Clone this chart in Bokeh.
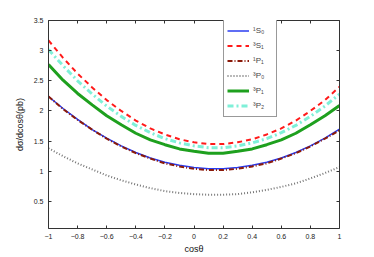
from bokeh.plotting import figure
from bokeh.models import (Legend, LegendItem, LinearAxis, Range1d, FixedTicker,
                          CustomLabelingPolicy)
from bokeh.embed import file_html
from bokeh.resources import INLINE

cos_theta = [-1.0, -0.9, -0.8, -0.7, -0.6, -0.5, -0.4, -0.3, -0.2, -0.1, 0.0,
             0.1, 0.2, 0.3, 0.4, 0.5, 0.6, 0.7, 0.8, 0.9, 1.0]
s0_1 = [2.24, 2.04, 1.86, 1.69, 1.55, 1.42, 1.31, 1.22, 1.15, 1.10, 1.06,
        1.04, 1.04, 1.06, 1.10, 1.15, 1.22, 1.31, 1.42, 1.55, 1.70]
s1_3 = [3.17, 2.88, 2.62, 2.39, 2.18, 2.00, 1.84, 1.71, 1.61, 1.53, 1.48,
        1.45, 1.45, 1.48, 1.53, 1.61, 1.71, 1.84, 2.00, 2.18, 2.40]
p1_1 = [2.24, 2.03, 1.85, 1.69, 1.54, 1.41, 1.30, 1.21, 1.13, 1.08, 1.04,
        1.02, 1.02, 1.04, 1.08, 1.13, 1.21, 1.30, 1.41, 1.54, 1.68]
p0_3 = [1.38, 1.25, 1.13, 1.03, 0.93, 0.85, 0.78, 0.72, 0.67, 0.64, 0.62,
        0.61, 0.61, 0.62, 0.65, 0.69, 0.74, 0.80, 0.88, 0.97, 1.07]
p1_3 = [2.77, 2.51, 2.29, 2.10, 1.92, 1.77, 1.63, 1.52, 1.44, 1.37, 1.33,
        1.30, 1.30, 1.33, 1.37, 1.44, 1.52, 1.63, 1.77, 1.92, 2.09]
p2_3 = [3.02, 2.75, 2.50, 2.28, 2.08, 1.91, 1.76, 1.64, 1.54, 1.47, 1.42,
        1.39, 1.39, 1.42, 1.47, 1.54, 1.64, 1.76, 1.91, 2.08, 2.28]

labels = ["¹S₀", "³S₁", "¹P₁", "³P₀", "³P₁", "³P₂"]
x_ticks = [-1, -0.8, -0.6, -0.4, -0.2, 0, 0.2, 0.4, 0.6, 0.8, 1]
x_tick_labels = ["−1", "−0.8", "−0.6", "−0.4", "−0.2", "0", "0.2", "0.4", "0.6", "0.8", "1"]
y_ticks = [0.5, 1, 1.5, 2, 2.5, 3, 3.5]
y_tick_labels = ["0.5", "1", "1.5", "2", "2.5", "3", "3.5"]

FONT = "Liberation Sans"
AXC = "#333333"

p = figure(frame_width=291, frame_height=208, output_backend="svg", toolbar_location=None,
           x_range=Range1d(-1, 1), y_range=Range1d(0.05, 3.5),
           min_border_left=48, min_border_top=20, min_border_right=20, min_border_bottom=10)
p.background_fill_color = "white"
p.border_fill_color = "white"
p.outline_line_color = None
p.xgrid.visible = False
p.ygrid.visible = False

p.xaxis.ticker = FixedTicker(ticks=x_ticks)
p.xaxis.major_label_overrides = {t: l for t, l in zip(x_ticks, x_tick_labels)}
p.yaxis.ticker = FixedTicker(ticks=y_ticks)
p.yaxis.major_label_overrides = {t: l for t, l in zip(y_ticks, y_tick_labels)}
p.xaxis.axis_label = "cosθ"
p.yaxis.axis_label = "dσ/dcosθ(pb)"

for ax in [p.xaxis[0], p.yaxis[0]]:
    ax.major_tick_in = 3
    ax.major_tick_out = 0
    ax.minor_tick_line_color = None
    ax.axis_line_color = AXC
    ax.major_tick_line_color = AXC
    ax.major_label_text_font = FONT
    ax.major_label_text_font_size = "7px"
    ax.major_label_text_color = "#222222"
    ax.axis_label_text_font = FONT
    ax.axis_label_text_font_size = "9px"
    ax.axis_label_text_font_style = "normal"
    ax.axis_label_text_color = "#111111"
p.xaxis.major_label_standoff = 5
p.xaxis.axis_label_standoff = 2
p.yaxis.major_label_standoff = 5
p.yaxis.axis_label_standoff = 6

hide_js = "const all = [...indices]; for (const i of all) indices.unset(i); return indices"
top = LinearAxis(ticker=FixedTicker(ticks=x_ticks),
                 major_label_policy=CustomLabelingPolicy(code=hide_js),
                 major_tick_in=3, major_tick_out=0, minor_tick_line_color=None,
                 axis_line_color=AXC, major_tick_line_color=AXC)
right = LinearAxis(ticker=FixedTicker(ticks=y_ticks),
                   major_label_policy=CustomLabelingPolicy(code=hide_js),
                   major_tick_in=3, major_tick_out=0, minor_tick_line_color=None,
                   axis_line_color=AXC, major_tick_line_color=AXC)
p.add_layout(top, "above")
p.add_layout(right, "right")

r1 = p.line(cos_theta, s0_1, line_color="#2a3cf0", line_width=1.5)
r2 = p.line(cos_theta, s1_3, line_color="#ff1a1a", line_width=2, line_dash="5 4")
r3 = p.line(cos_theta, p1_1, line_color="#8b1a0a", line_width=2, line_dash="5 2 1 2")
r4 = p.line(cos_theta, p0_3, line_color="#777777", line_width=2, line_dash="1 2")
r5 = p.line(cos_theta, p1_3, line_color="#1ea01e", line_width=3)
r6 = p.line(cos_theta, p2_3, line_color="#7ff0d8", line_width=3, line_dash="6 3 2 3")

legend = Legend(items=[LegendItem(label=l, renderers=[r]) for l, r in
                       zip(labels, [r1, r2, r3, r4, r5, r6])],
                location=(175, 111))
legend.label_text_font = FONT
legend.label_text_font_size = "8px"
legend.label_height = 15
legend.glyph_height = 15
legend.glyph_width = 22
legend.spacing = 0
legend.padding = 3
legend.margin = 0
legend.label_standoff = 4
legend.border_line_color = "#333333"
legend.border_line_width = 1
legend.background_fill_alpha = 1
p.add_layout(legend)

open("out.html", "w").write(file_html(p, INLINE))
